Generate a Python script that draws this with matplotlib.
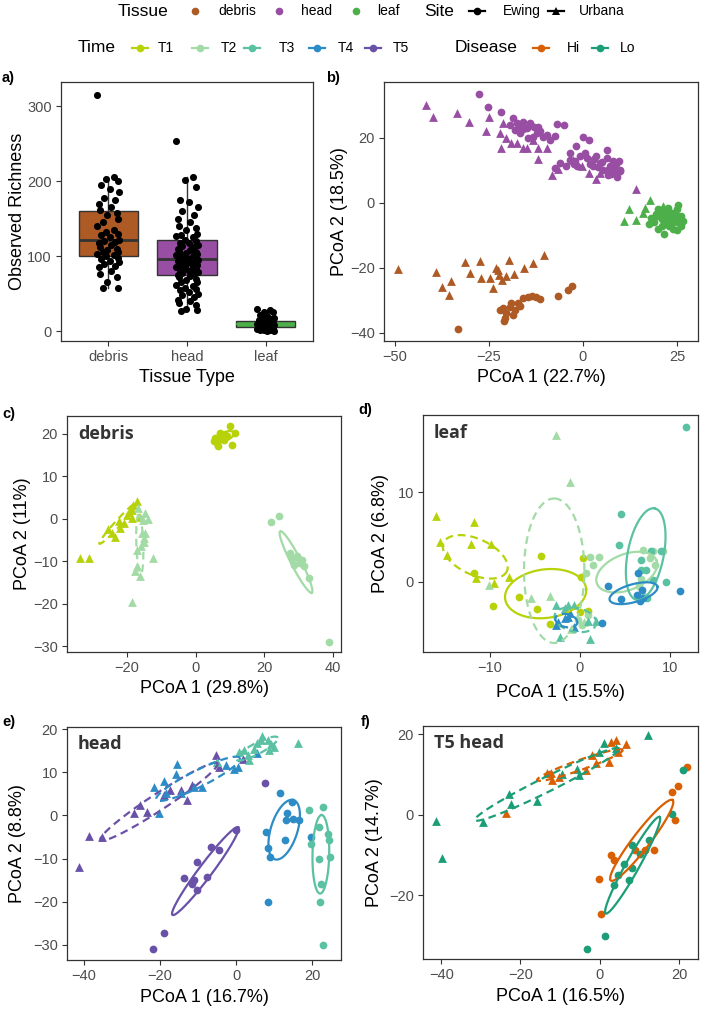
import numpy as np
import matplotlib
matplotlib.use("Agg")
import matplotlib.pyplot as plt
from matplotlib.lines import Line2D

plt.rcParams['font.family'] = ['Liberation Sans', 'DejaVu Sans']

# ---------------- colours ----------------
TISSUES = ['debris', 'head', 'leaf']
TISSUE_COLORS = ['#AD5A24', '#984EA3', '#4DAF4A']
TIMES = ['T1', 'T2', 'T3', 'T4', 'T5']
TIME_COLORS = ['#B8D20A', '#A2DBA5', '#5BC1A3', '#2D8CC6', '#6A51A8']
DISEASES = ['Hi', 'Lo']
DISEASE_COLORS = ['#D95F02', '#1B9E77']

# ---------------- panel a: observed richness ----------------
A_DEBRIS = [315, 205, 203, 200, 195, 190, 185, 178, 175, 170, 165, 162, 158, 155, 150, 145, 140,
            135, 132, 130, 128, 125, 122, 120, 119, 118, 115, 112, 110, 108, 106, 105, 103, 102,
            100, 98, 96, 94, 92, 90, 87, 85, 80, 76, 72, 65, 58, 57]
A_HEAD = [253, 205, 202, 192, 175, 172, 165, 160, 155, 150, 145, 140, 138, 135, 130, 128, 127, 125,
          122, 120, 118, 117, 115, 113, 112, 110, 108, 107, 105, 104, 103, 102, 101, 100, 99, 98, 97,
          96, 95, 95, 94, 93, 92, 91, 90, 89, 88, 87, 86, 85, 84, 83, 82, 80, 79, 78, 77, 75, 74, 72,
          70, 68, 66, 65, 62, 60, 58, 56, 55, 52, 50, 48, 45, 42, 40, 38, 35, 30, 28, 27]
A_LEAF = [30, 28, 26, 25, 22, 20, 18, 17, 16, 15, 14, 13, 12, 12, 11, 11, 10, 10, 10, 9, 9, 8, 8, 7,
          7, 6, 6, 5, 5, 4, 4, 3, 3, 2, 2, 1, 1, 0, 0]
A_Q1 = [100, 75, 5]
A_MED = [121, 96, 10]
A_Q3 = [160, 122, 13]
A_WLO = [58, 27, 0]
A_WHI = [205, 205, 25]
JITTER = [-0.14, 0.07, -0.03, 0.12, -0.09, 0.02, 0.14, -0.06, 0.09, -0.12, 0.04, -0.10, 0.11,
          -0.01, 0.13, -0.07]

# ---------------- panel b: all tissues ----------------
B_HEAD_E_X = [-27.7, -25.2, -21.9, -18.5, -15.9, -14.1, -18.1, -16.8, -12.3, -10.5, -8.8, -15.0, -6.8,
              -5.0, -17.6, -13.2, -11.4, -19.5, -17.0, -14.5, -13.0, -9.5,
              -1.9, -0.1, 1.7, -6.1, -3.5, -0.8, 1.0, 3.6, 6.3, 7.2, 8.5, 9.8, 5.4, 6.7, -4.4, -1.7,
              2.8, 4.5, 8.0, 6.3, -3.5, -7.4, 7.5, 8.8, 9.0, 9.2, 7.0, 5.0, 3.0, 0.5, -2.5, 9.9, 9.5,
              -16.0, -12.0, -7.5, -2.0, 2.0, 4.0, 7.8]
B_HEAD_E_Y = [33.5, 29.4, 28.1, 26.1, 25.0, 24.5, 22.5, 21.5, 21.5, 20.4, 19.4, 23.0, 24.2, 24.0, 24.5,
              20.4, 22.0, 24.0, 23.5, 20.0, 23.5, 21.0,
              17.5, 20.4, 19.4, 12.2, 15.3, 14.3, 13.8, 14.3, 13.8, 11.2, 10.2, 10.2, 10.2, 8.6, 11.2,
              11.2, 11.2, 12.2, 12.8, 16.3, 13.2, 10.7, 9.0, 12.0, 8.0, 9.5, 10.5, 12.5, 13.5, 15.5,
              12.0, 9.8, 13.0,
              22.8, 23.2, 20.5, 13.0, 12.0, 11.0, 10.8]
B_HEAD_U_X = [-41.8, -40.0, -33.6, -30.2, -24.9, -25.8, -22.1, -21.2, -21.8, -20.5, -17.6, -15.0, -11.9,
              -11.9, -8.3, -6.6, -0.3, 1.7, 3.5, 14.0, -13.3, -9.6, -2.6, 4.5, -19.0, -16.0]
B_HEAD_U_Y = [30.2, 26.4, 27.6, 24.8, 26.4, 22.2, 21.4, 24.5, 16.8, 19.9, 18.4, 16.8, 13.4, 16.8, 8.6,
              10.5, 11.4, 9.1, 7.3, 4.2, 19.4, 16.8, 13.2, 9.1, 18.5, 17.0]
B_LEAF_E_X = [20, 21, 22, 23, 24, 25, 26, 24, 25, 22, 23, 21, 19, 18, 20, 24, 26, 23, 22, 25, 21, 21.6,
              25, 25.2, 26, 26.5, 20, 17.5, 19.5, 23.5, 24.5, 22.5]
B_LEAF_E_Y = [-4, -5, -6, -4, -5, -6, -5, -3, -2, -3, -7, -7, -6, -4.5, -8, -8, -4, -5, -5, -4, -3, -9.5,
              -8.3, -0.6, -7, -5.5, -2, -6.5, -3.5, -6.5, -4, -1.5]
B_LEAF_U_X = [12.2, 11.0, 14.1, 17.8, 15.9, 21.4, 18.6, 16.5, 19.8]
B_LEAF_U_Y = [-1.9, -5.7, -5.4, 0.9, -3.0, -1.1, -4.7, -1.5, -3.5]
B_DEBRIS_U_X = [-49.3, -39.1, -37.5, -35.5, -35.1, -31.3, -30.1, -27.3, -27.1, -24.6, -23.8, -23.1, -22.2,
                -21.4, -19.6, -20.5, -18.3, -15.8, -13.2, -10.4, -22.7]
B_DEBRIS_U_Y = [-20.4, -21.3, -25.9, -28.4, -23.9, -18.3, -21.6, -17.8, -23.2, -23.1, -26.3, -20.1, -22.2,
                -23.7, -17.7, -22.6, -21.8, -20.1, -18.5, -16.0, -20.6]
B_DEBRIS_E_X = [-33.3, -20.9, -22.1, -20.7, -19.4, -18.1, -17.2, -15.9, -13.6, -11.4, -6.6, -3.9, -3.0,
                -20.4, -18.5, -21.2, -16.8, -19.0, -14.5, -12.5]
B_DEBRIS_E_Y = [-38.9, -36.2, -32.9, -35.5, -31.9, -32.9, -30.8, -29.3, -28.8, -29.6, -28.5, -26.8, -25.5,
                -34.0, -34.5, -32.4, -31.7, -30.8, -29.0, -29.0]

# ---------------- panel c: debris by time ----------------
C_T1_E_X = [5.2, 7.1, 10.0, 11.5, 10.7, 8.1, 6.2, 9.1, 7.1, 5.6, 8.5, 6.6]
C_T1_E_Y = [18.2, 20.2, 21.9, 20.2, 17.3, 18.6, 17.8, 19.4, 19.0, 19.0, 19.8, 17.2]
C_T1_U_X = [-33.7, -31.0, -25.7, -24.5, -23.5, -22.5, -22.0, -20.1, -18.6, -17.2, -18.2, -16.2, -18.6,
            -21.0, -19.5]
C_T1_U_Y = [-9.3, -9.3, -2.4, -3.4, -4.2, -0.6, -2.2, 0.9, 2.1, 4.1, 3.3, 0.5, 0.2, -1.0, 1.5]
C_T2_U_X = [-16.7, -14.8, -13.8, -15.7, -14.7, -17.2, -15.2, -12.5, -17.7, -16.2, -18.6, -17.2, -15.5,
            -16.0, -15.0]
C_T2_U_Y = [2.5, 1.3, -0.1, -3.4, -3.4, -7.3, -5.4, -9.3, -12.2, -13.6, -19.7, -11.2, -0.4, -6.5, -4.5]
C_T2_E_X = [21.9, 24.1, 27.5, 29.5, 30.4, 31.4, 32.9, 28.5, 29.9, 38.9, 30.8, 28.0]
C_T2_E_Y = [-0.7, 0.7, -8.1, -8.9, -10.4, -11.2, -14.0, -10.8, -9.3, -29.1, -9.8, -9.5]
# ellipses: (group index, dashed?, cx, cy, ax, ay, bx, by)
C_ELL = [(0, False, 8.2, 19.3, 3.0, 0.9, -0.3, 1.0),
         (0, True, -22.6, -1.05, 5.45, 4.85, 0.65, -0.47),
         (1, True, -16.3, -6.0, -0.3, 7.0, 1.0, 0.05),
         (1, False, 29.2, -10.2, 4.6, -7.25, 1.3, 0.54)]

# ---------------- panel d: leaf by time ----------------
D_T1_U_X = [-16.0, -15.5, -14.7, -11.7, -12.1, -9.9, -11.5, -9.5, -7.9]
D_T1_U_Y = [7.4, 4.4, 3.0, 6.7, 4.2, 4.2, 0.4, -0.1, 0.6]
D_T1_E_X = [-4.3, 0.4, 0.1, -9.6, -11.7, -6.7, -4.8, -3.3, 0.0, 0.9]
D_T1_E_Y = [2.9, 2.7, 0.6, -2.7, 1.0, -1.7, -3.0, -4.7, -3.3, -3.2]
D_T2_U_X = [-2.7, -1.1, -10.1, -5.4, -3.3, -1.0, 0.5]
D_T2_U_Y = [16.4, 11.1, -0.3, -1.8, -1.6, -5.2, -4.5]
D_T2_E_X = [1.1, 2.1, 0.7, 7.0, 8.1, 6.6, 6.8, 8.3, 9.2, 7.1, -0.2, 0.2, 0.9, 7.8, 1.5]
D_T2_E_Y = [2.8, 2.8, 1.0, 3.6, 3.4, -0.5, 0.3, 1.9, 3.5, -1.6, -4.2, -4.8, -3.7, 2.7, 1.9]
D_T3_U_X = [-2.6, -1.7, -0.7, 0.9, 1.8, 1.1, -2.2, -1.3]
D_T3_U_Y = [-2.6, -2.9, -2.6, -4.4, -4.4, -6.4, -6.1, -2.6]
D_T3_E_X = [11.8, 4.6, 4.3, 6.8, 7.9, 9.6, 6.8, 9.0, 7.3, 8.1, 7.4]
D_T3_E_Y = [17.3, 7.6, 4.1, 2.5, 3.4, 0.0, 1.3, 3.4, 1.3, 0.2, -1.8]
D_T4_U_X = [-2.6, -1.3, -0.6, -1.7, -1.1, -2.4]
D_T4_U_Y = [-4.8, -3.9, -5.0, -4.0, -3.5, -4.5]
D_T4_E_X = [2.5, 3.1, 4.6, 6.5, 6.3, 6.9, 7.0, 11.1, 6.7]
D_T4_E_Y = [-4.6, -0.5, -1.9, 1.0, -1.4, -0.9, -1.8, -1.0, -2.1]
D_ELL = [(0, True, -11.6, 2.8, 3.5, -1.6, -0.83, -1.82),
         (0, False, -3.8, -1.3, 4.5, 0.5, -0.2, 2.7),
         (1, True, -2.85, 1.25, 0.0, 8.05, 3.35, 0.0),
         (1, False, 5.2, 1.1, 3.3, 1.3, -0.73, 1.86),
         (2, True, -0.5, -4.2, 2.3, -0.5, 0.3, 1.3),
         (2, False, 7.3, 3.1, 1.0, 5.1, 1.96, -0.39),
         (3, True, -1.5, -4.3, 1.2, -0.3, 0.2, 0.7),
         (3, False, 5.95, -1.25, 2.65, 0.75, -0.27, 0.96)]

# ---------------- panel e: head by time ----------------
E_T5_U_X = [-41.3, -38.6, -35.3, -26.9, -25.2, -23.4, -17.3, -14.6, -12.9, -5.4, -4.5, 1.7, -19.0, -11.5]
E_T5_U_Y = [-12.0, -4.8, -5.1, 0.6, 2.4, 0.8, 5.9, 5.9, 3.6, 14.0, 11.3, 13.0, 4.7, 7.0]
E_T4_U_X = [-21.6, -19.0, -15.5, -15.9, -18.5, -20.3, -11.1, -8.9, -4.9, -2.7, -0.5, 5.4, 0.4, -14.6]
E_T4_U_Y = [6.6, 8.0, 11.9, 9.5, 5.1, 0.6, 6.6, 6.6, 12.4, 11.7, 10.7, 14.4, 11.3, 5.1]
E_T3_U_X = [0.8, 3.0, 3.4, 6.9, 8.3, 9.1, 5.6, 8.7, 10.0, 16.2, 4.7, 2.1, 6.5, -4.9]
E_T3_U_Y = [14.7, 14.0, 12.8, 18.4, 17.5, 16.5, 16.7, 15.1, 15.9, 16.7, 15.5, 15.1, 17.5, 12.3]
E_T5_E_X = [7.6, 0.0, -4.5, -6.7, -7.6, -10.2, -13.7, -11.1, -10.2, -11.5, -19.0, -21.8]
E_T5_E_Y = [7.6, -3.4, -8.0, -7.3, -14.2, -10.7, -14.6, -15.0, -17.3, -15.8, -27.2, -31.0]
E_T4_E_X = [11.6, 14.6, 13.4, 15.1, 16.6, 13.1, 7.8, 8.3, 9.0, 12.8, 19.7, 8.3]
E_T4_E_Y = [5.1, 3.2, 0.5, -0.9, -1.1, -1.1, -3.8, -7.6, -9.6, -5.7, -5.1, -20.0]
E_T3_E_X = [19.3, 21.9, 22.8, 24.1, 24.5, 24.8, 21.9, 19.7, 22.3, 22.1, 22.8]
E_T3_E_Y = [1.2, -2.6, 2.0, -4.2, -5.7, -9.6, -10.2, -6.6, -15.8, -20.0, -30.0]
E_ELL = [(4, True, -20.3, 3.2, 15.4, 8.9, -1.2, 1.6),
         (3, True, -10.0, 8.5, 11.0, 4.8, -0.8, 1.8),
         (2, True, 5.5, 15.5, 5.5, 2.5, -0.5, 1.2),
         (4, False, -8.1, -12.9, 8.65, 10.15, -1.41, 0.93),
         (3, False, 12.65, -3.3, 2.46, 6.87, 3.34, -0.93),
         (2, False, 22.3, -9.0, 0.2, 9.1, 2.2, 0.0)]

# ---------------- panel f: T5 head by disease ----------------
F_HI_U_X = [-23.7, -13.2, -12.0, -10.3, -3.5, -1.9, 2.4, 2.8, 4.0, 4.5, 6.6, -1.0, -12.4]
F_HI_U_Y = [0.4, 10.2, 8.5, 9.4, 11.0, 14.7, 13.1, 18.0, 18.6, 15.6, 17.5, 12.8, 10.2]
F_LO_U_X = [-41.3, -39.7, -29.4, -22.9, -22.4, -15.8, -9.5, -5.3, -5.8, 1.1, 4.0, 12.1, -0.2]
F_LO_U_Y = [-1.7, -10.9, -1.8, 5.0, 2.7, 3.3, 10.0, 9.8, 11.4, 17.8, 16.6, 19.7, 15.6]
F_HI_E_X = [22.1, 19.7, 18.3, 18.9, 9.0, 11.3, 13.8, 2.8, 3.6, -0.3, 0.3]
F_HI_E_Y = [11.8, 7.0, 5.6, -1.4, -8.9, -8.9, -8.9, -10.1, -11.3, -15.9, -24.6]
F_LO_E_X = [21.0, 18.3, 8.1, 12.5, 6.2, 8.1, 4.5, 3.6, 7.5, 1.4, -3.1, 10.2]
F_LO_E_Y = [11.0, 0.1, -7.6, -6.4, -12.2, -13.4, -15.1, -17.5, -16.3, -30.2, -33.4, -9.7]
F_ELL = [(0, True, -5.0, 12.3, 10.8, 3.75, -0.42, 1.17),
         (1, True, -13.3, 7.5, 18.2, 8.9, -0.83, 1.63),
         (0, False, 10.6, -6.4, 7.8, 10.0, -1.68, 1.27),
         (1, False, 8.3, -12.6, 6.8, 12.0, -1.48, 0.8)]

# ======================================================================
W, H = 702, 1013
fig = plt.figure(figsize=(W / 100, H / 100), dpi=100)


def px_axes(x0, y0, x1, y1):
    return fig.add_axes([x0 / W, 1 - y1 / H, (x1 - x0) / W, (y1 - y0) / H])


def style(ax, xlabel, ylabel, xl_y, yl_x):
    for s in ax.spines.values():
        s.set_color('#333333')
        s.set_linewidth(0.9)
    ax.tick_params(length=3.5, width=0.8, color='#333333', labelcolor='#4D4D4D',
                   labelsize=10.5, pad=3)
    ax.set_xlabel(xlabel, fontsize=13, color='black', va='center')
    ax.set_ylabel(ylabel, fontsize=13, color='black', va='center')
    ax.xaxis.set_label_coords(0.5, xl_y)
    ax.yaxis.set_label_coords(yl_x, 0.5)


def pts(ax, x, y, color, site):
    if site == 'E':
        ax.scatter(x, y, s=31, marker='o', color=color, linewidths=0, zorder=3)
    else:
        ax.scatter(x, y, s=40, marker='^', color=color, linewidths=0, zorder=3)


def ellipses(ax, table, colors):
    t = np.linspace(0, 2 * np.pi, 240)
    for gi, dashed, cx, cy, axx, axy, bx, by in table:
        xs = cx + axx * np.cos(t) + bx * np.sin(t)
        ys = cy + axy * np.cos(t) + by * np.sin(t)
        ln, = ax.plot(xs, ys, color=colors[gi], lw=1.6, zorder=4)
        if dashed:
            ln.set_dashes((3.5, 2.2))


def inner_label(ax, txt):
    ax.text(0.04, 0.925, txt, transform=ax.transAxes, fontsize=13, fontweight='bold',
            family=['Open Sans', 'DejaVu Sans'], color='#333333', va='center', ha='left')


def panel_letter(x, y, txt):
    fig.text(x / W, 1 - y / H, txt, fontsize=10.5, fontweight='bold', va='center', ha='left')


# ---------------- a ----------------
ax = px_axes(61, 82, 313, 341)
stats = []
for i in range(3):
    stats.append(dict(q1=A_Q1[i], med=A_MED[i], q3=A_Q3[i], whislo=A_WLO[i], whishi=A_WHI[i],
                      fliers=[]))
bp = ax.bxp(stats, positions=[1, 2, 3], widths=0.75, patch_artist=True,
            boxprops=dict(edgecolor='#333333', linewidth=1.0),
            medianprops=dict(color='#333333', linewidth=2.0),
            whiskerprops=dict(color='#333333', linewidth=1.0),
            capprops=dict(linewidth=0))
for patch, c in zip(bp['boxes'], TISSUE_COLORS):
    patch.set_facecolor(c)
bp['medians'][2].set_color(TISSUE_COLORS[2])
bp['medians'][2].set_linewidth(1.2)
for i, vals in enumerate([A_DEBRIS, A_HEAD, A_LEAF]):
    xs = [i + 1 + JITTER[k % len(JITTER)] * (0.75 if i == 2 else 1.0) for k in range(len(vals))]
    ax.scatter(xs, vals, s=26, color='black', linewidths=0, zorder=5)
ax.set_xlim(0.4, 3.6)
ax.set_ylim(-13, 332)
ax.set_xticks([1, 2, 3])
ax.set_xticklabels(TISSUES)
ax.set_yticks([0, 100, 200, 300])
style(ax, 'Tissue Type', 'Observed Richness', -0.139, -0.171)

# ---------------- b ----------------
ax = px_axes(384, 82, 698, 341)
pts(ax, B_HEAD_U_X, B_HEAD_U_Y, TISSUE_COLORS[1], 'U')
pts(ax, B_HEAD_E_X, B_HEAD_E_Y, TISSUE_COLORS[1], 'E')
pts(ax, B_LEAF_U_X, B_LEAF_U_Y, TISSUE_COLORS[2], 'U')
pts(ax, B_LEAF_E_X, B_LEAF_E_Y, TISSUE_COLORS[2], 'E')
pts(ax, B_DEBRIS_U_X, B_DEBRIS_U_Y, TISSUE_COLORS[0], 'U')
pts(ax, B_DEBRIS_E_X, B_DEBRIS_E_Y, TISSUE_COLORS[0], 'E')
ax.set_xlim(-52.9, 30.6)
ax.set_ylim(-42.5, 37.2)
ax.set_xticks([-50, -25, 0, 25])
ax.set_yticks([-40, -20, 0, 20])
style(ax, 'PCoA 1 (22.7%)', 'PCoA 2 (18.5%)', -0.139, -0.142)

# ---------------- c ----------------
ax = px_axes(67, 416, 341, 652)
pts(ax, C_T1_E_X, C_T1_E_Y, TIME_COLORS[0], 'E')
pts(ax, C_T1_U_X, C_T1_U_Y, TIME_COLORS[0], 'U')
pts(ax, C_T2_U_X, C_T2_U_Y, TIME_COLORS[1], 'U')
pts(ax, C_T2_E_X, C_T2_E_Y, TIME_COLORS[1], 'E')
ellipses(ax, C_ELL, TIME_COLORS)
ax.set_xlim(-37.5, 42.3)
ax.set_ylim(-31.4, 24.2)
ax.set_xticks([-20, 0, 20, 40])
ax.set_yticks([-30, -20, -10, 0, 10, 20])
style(ax, 'PCoA 1 (29.8%)', 'PCoA 2 (11%)', -0.153, -0.161)
inner_label(ax, 'debris')

# ---------------- d ----------------
ax = px_axes(423, 415, 698, 652)
pts(ax, D_T1_U_X, D_T1_U_Y, TIME_COLORS[0], 'U')
pts(ax, D_T1_E_X, D_T1_E_Y, TIME_COLORS[0], 'E')
pts(ax, D_T2_U_X, D_T2_U_Y, TIME_COLORS[1], 'U')
pts(ax, D_T2_E_X, D_T2_E_Y, TIME_COLORS[1], 'E')
pts(ax, D_T3_U_X, D_T3_U_Y, TIME_COLORS[2], 'U')
pts(ax, D_T3_E_X, D_T3_E_Y, TIME_COLORS[2], 'E')
pts(ax, D_T4_U_X, D_T4_U_Y, TIME_COLORS[3], 'U')
pts(ax, D_T4_E_X, D_T4_E_Y, TIME_COLORS[3], 'E')
ellipses(ax, D_ELL, TIME_COLORS)
ax.set_xlim(-17.4, 13.1)
ax.set_ylim(-7.8, 18.6)
ax.set_xticks([-10, 0, 10])
ax.set_yticks([0, 10])
style(ax, 'PCoA 1 (15.5%)', 'PCoA 2 (6.8%)', -0.169, -0.153)
inner_label(ax, 'leaf')

# ---------------- e ----------------
ax = px_axes(67, 727, 341, 960)
pts(ax, E_T5_U_X, E_T5_U_Y, TIME_COLORS[4], 'U')
pts(ax, E_T4_U_X, E_T4_U_Y, TIME_COLORS[3], 'U')
pts(ax, E_T3_U_X, E_T3_U_Y, TIME_COLORS[2], 'U')
pts(ax, E_T5_E_X, E_T5_E_Y, TIME_COLORS[4], 'E')
pts(ax, E_T4_E_X, E_T4_E_Y, TIME_COLORS[3], 'E')
pts(ax, E_T3_E_X, E_T3_E_Y, TIME_COLORS[2], 'E')
ellipses(ax, E_ELL, TIME_COLORS)
ax.set_xlim(-44.5, 27.6)
ax.set_ylim(-33.5, 20.5)
ax.set_xticks([-40, -20, 0, 20])
ax.set_yticks([-30, -20, -10, 0, 10, 20])
style(ax, 'PCoA 1 (16.7%)', 'PCoA 2 (8.8%)', -0.163, -0.182)
inner_label(ax, 'head')

# ---------------- f ----------------
ax = px_axes(423, 726, 698, 959)
pts(ax, F_HI_U_X, F_HI_U_Y, DISEASE_COLORS[0], 'U')
pts(ax, F_LO_U_X, F_LO_U_Y, DISEASE_COLORS[1], 'U')
pts(ax, F_HI_E_X, F_HI_E_Y, DISEASE_COLORS[0], 'E')
pts(ax, F_LO_E_X, F_LO_E_Y, DISEASE_COLORS[1], 'E')
ellipses(ax, F_ELL, DISEASE_COLORS)
ax.set_xlim(-44.6, 24.8)
ax.set_ylim(-35.9, 22.0)
ax.set_xticks([-40, -20, 0, 20])
ax.set_yticks([-20, 0, 20])
style(ax, 'PCoA 1 (16.5%)', 'PCoA 2 (14.7%)', -0.163, -0.178)
inner_label(ax, 'T5 head')

# ---------------- panel letters ----------------
panel_letter(2, 78, 'a)')
panel_letter(326, 78, 'b)')
panel_letter(2, 414, 'c)')
panel_letter(358, 410, 'd)')
panel_letter(2, 722, 'e)')
panel_letter(361, 722, 'f)')

# ---------------- legend ----------------
def ltext(x, y, s, size):
    fig.text(x / W, 1 - y / H, s, fontsize=size, va='center', ha='left', color='black')


def lkey(xc, y, color, marker, line):
    if line:
        fig.add_artist(Line2D([(xc - 8) / W, (xc + 8) / W], [1 - y / H, 1 - y / H], color=color,
                              lw=1.6, transform=fig.transFigure))
    fig.add_artist(Line2D([xc / W], [1 - y / H], marker=marker, color=color, markersize=5.5,
                          markeredgewidth=0, lw=0, transform=fig.transFigure))


R1, R2 = 11, 48
ltext(118, R1, 'Tissue', 12.5)
for xc, xt, lab, col in zip([195, 279, 356], [218, 301, 377], TISSUES, TISSUE_COLORS):
    lkey(xc, R1, col, 'o', False)
    ltext(xt, R1, lab, 10)
ltext(424, R1, 'Site', 12.5)
lkey(477, R1, 'black', 'o', True)
ltext(503, R1, 'Ewing', 10)
lkey(556, R1, 'black', '^', True)
ltext(579, R1, 'Urbana', 10)

ltext(78, R2, 'Time', 12.5)
for xc, xt, lab, col in zip([140, 200, 252, 317, 373], [158, 221, 279, 338, 393], TIMES, TIME_COLORS):
    lkey(xc, R2, col, 'o', True)
    ltext(xt, R2, lab, 10)
ltext(455, R2, 'Disease', 12.5)
for xc, xt, lab, col in zip([541, 600], [567, 620], DISEASES, DISEASE_COLORS):
    lkey(xc, R2, col, 'o', True)
    ltext(xt, R2, lab, 10)

fig.savefig('out.png', dpi=100)
